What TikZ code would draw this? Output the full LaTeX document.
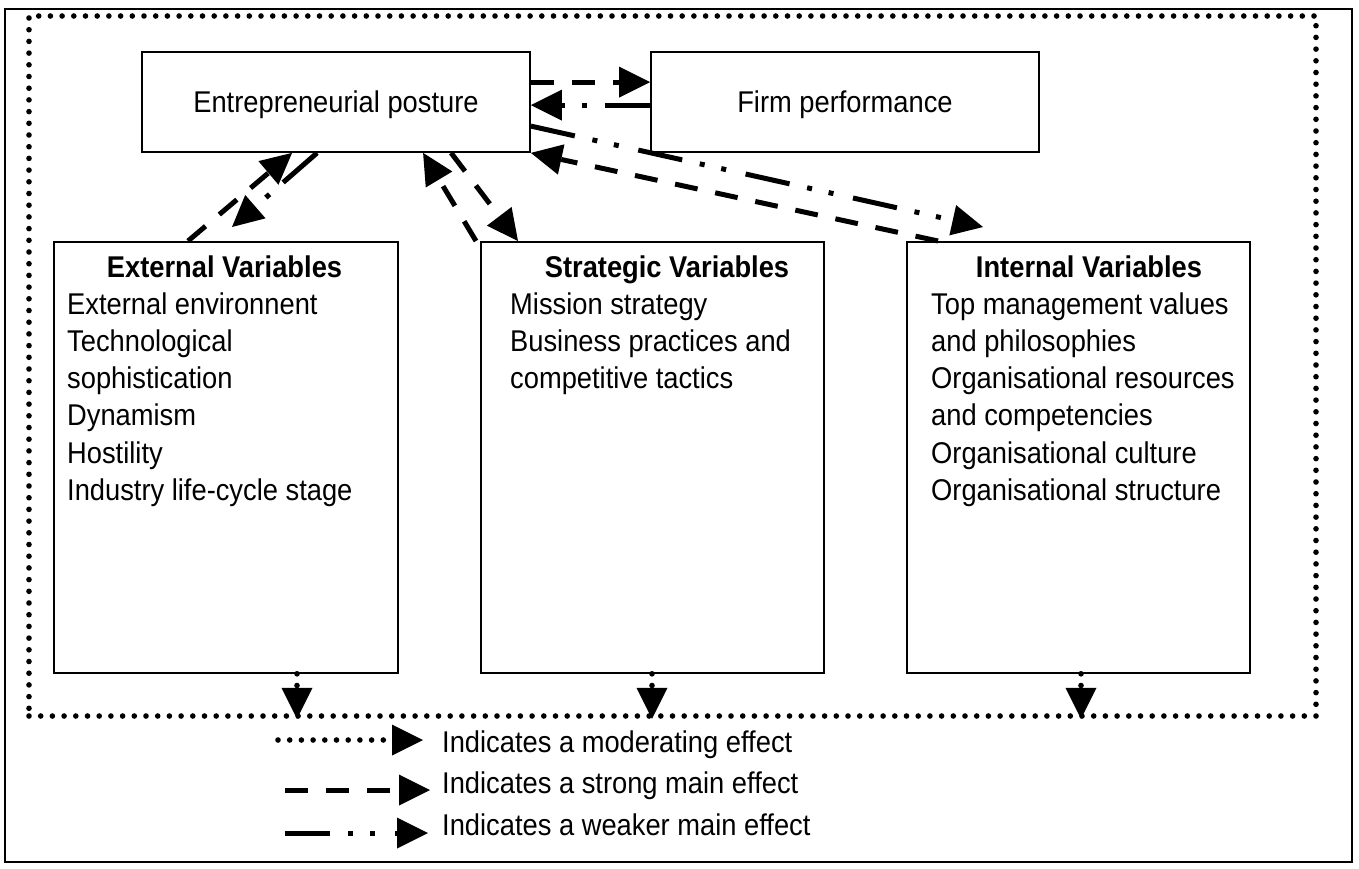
\documentclass[tikz,border=0pt]{standalone}
\usepackage{fontspec}
\setmainfont[FakeStretch=0.91]{Liberation Sans}
\usetikzlibrary{arrows.meta,calc}

\tikzset{
  tip/.tip={Triangle[length=31pt,width=31pt,line width=0pt]},
  box/.style={draw, line width=1.8pt, inner sep=0pt},
  txt/.style={inner sep=0pt, font=\fontsize{30}{37.2}\selectfont},
  head/.style={txt, anchor=base, font=\fontsize{30}{37.2}\selectfont\bfseries},
  body/.style={txt, anchor=base west},
  strongfx/.style={line width=5pt, dash pattern=on 23pt off 18pt, -tip},
  weakfx/.style={line width=5pt, dash pattern=on 45pt off 18pt on 5pt off 17pt on 5pt off 20pt, -tip},
  dots/.style={line width=5.6pt, line cap=round, dash pattern=on 0pt off 11.7pt},
  modfx/.style={dots, -tip},
}

\begin{document}
\begin{tikzpicture}[x=1pt, y=-1pt]
\useasboundingbox (0,0) rectangle (1359,868);

% outer frame and the dotted boundary of the model
\draw[line width=2.5pt] (5,9) rectangle (1352,862);
\node[draw, dots, minimum width=1287pt, minimum height=700pt, inner sep=0pt] (frame) at (672.5,366) {};

% top row
\node[box, txt, minimum width=388pt, minimum height=100pt, text height=26pt, text depth=6pt]
  (EP) at (336,102) {Entrepreneurial posture};
\node[box, txt, minimum width=388pt, minimum height=100pt, text height=26pt, text depth=6pt]
  (FP) at (845,102) {Firm performance};

% variable boxes
\node[box, anchor=north west, minimum width=344pt, minimum height=431pt] (Ext) at (53,241) {};
\node[box, anchor=north west, minimum width=343pt, minimum height=431pt] (Str) at (480,241) {};
\node[box, anchor=north west, minimum width=343pt, minimum height=431pt] (Int) at (906,241) {};

\node[head] (exthead) at (224.5,277) {External Variables};
\foreach \t [count=\i] in {External environnent, Technological, sophistication, Dynamism, Hostility, Industry life-cycle stage}
  \node[body] (ext\i) at (67,{277+37.2*\i}) {\t};

\node[head] (strhead) at (667,277) {Strategic Variables};
\foreach \t [count=\i] in {Mission strategy, Business practices and, competitive tactics}
  \node[body] (str\i) at (510,{277+37.2*\i}) {\t};

\node[head] (inthead) at (1089,277) {Internal Variables};
\foreach \t [count=\i] in {Top management values, and philosophies, Organisational resources, and competencies, Organisational culture, Organisational structure}
  \node[body] (int\i) at (931,{277+37.2*\i}) {\t};

% effects between posture and performance
\draw[strongfx] ($(EP.north east)+(0,31)$) -- ($(FP.north west)+(0,31)$);
\draw[weakfx]   ($(FP.north west)+(0,54)$) -- ($(EP.north east)+(0,54)$);

% effects between posture and the variable groups
\draw[weakfx]   ($(EP.north east)+(0,75)$) -- ($(Int.north west)+(77,-14)$);
\draw[strongfx] ($(Int.north west)+(32,0)$) -- (EP.south east);

\draw[strongfx] ($(Ext.north west)+(135,0)$) -- ($(EP.south west)+(151,0)$);
\draw[weakfx]   ($(EP.south west)+(176,0)$) -- ($(Ext.north west)+(179,-14)$);

\draw[strongfx] ($(EP.south west)+(310,0)$) -- ($(Str.north west)+(38,0)$);
\draw[strongfx] ($(Str.north west)+(-4,0)$) -- ($(EP.south west)+(282,0)$);

% moderating effects onto the model boundary
\draw[modfx] ($(Ext.south west)+(244,0)$) coordinate (m1) -- (m1 |- frame.south);
\draw[modfx] ($(Str.south west)+(172,0)$) coordinate (m2) -- (m2 |- frame.south);
\draw[modfx] ($(Int.south west)+(175,0)$) coordinate (m3) -- (m3 |- frame.south);

% legend
\coordinate (l1a) at (278,740); \coordinate (l1b) at (423,740);
\coordinate (l2a) at (285,790); \coordinate (l2b) at (430,790);
\coordinate (l3a) at (285,833); \coordinate (l3b) at (428,833);
\draw[modfx]    (l1a) -- (l1b);
\draw[strongfx] (l2a) -- (l2b);
\draw[weakfx]   (l3a) -- (l3b);
\node[body] (lt1) at (442,752) {Indicates a moderating effect};
\node[body] (lt2) at (442,793) {Indicates a strong main effect};
\node[body] (lt3) at (442,835) {Indicates a weaker main effect};
\end{tikzpicture}
\end{document}
